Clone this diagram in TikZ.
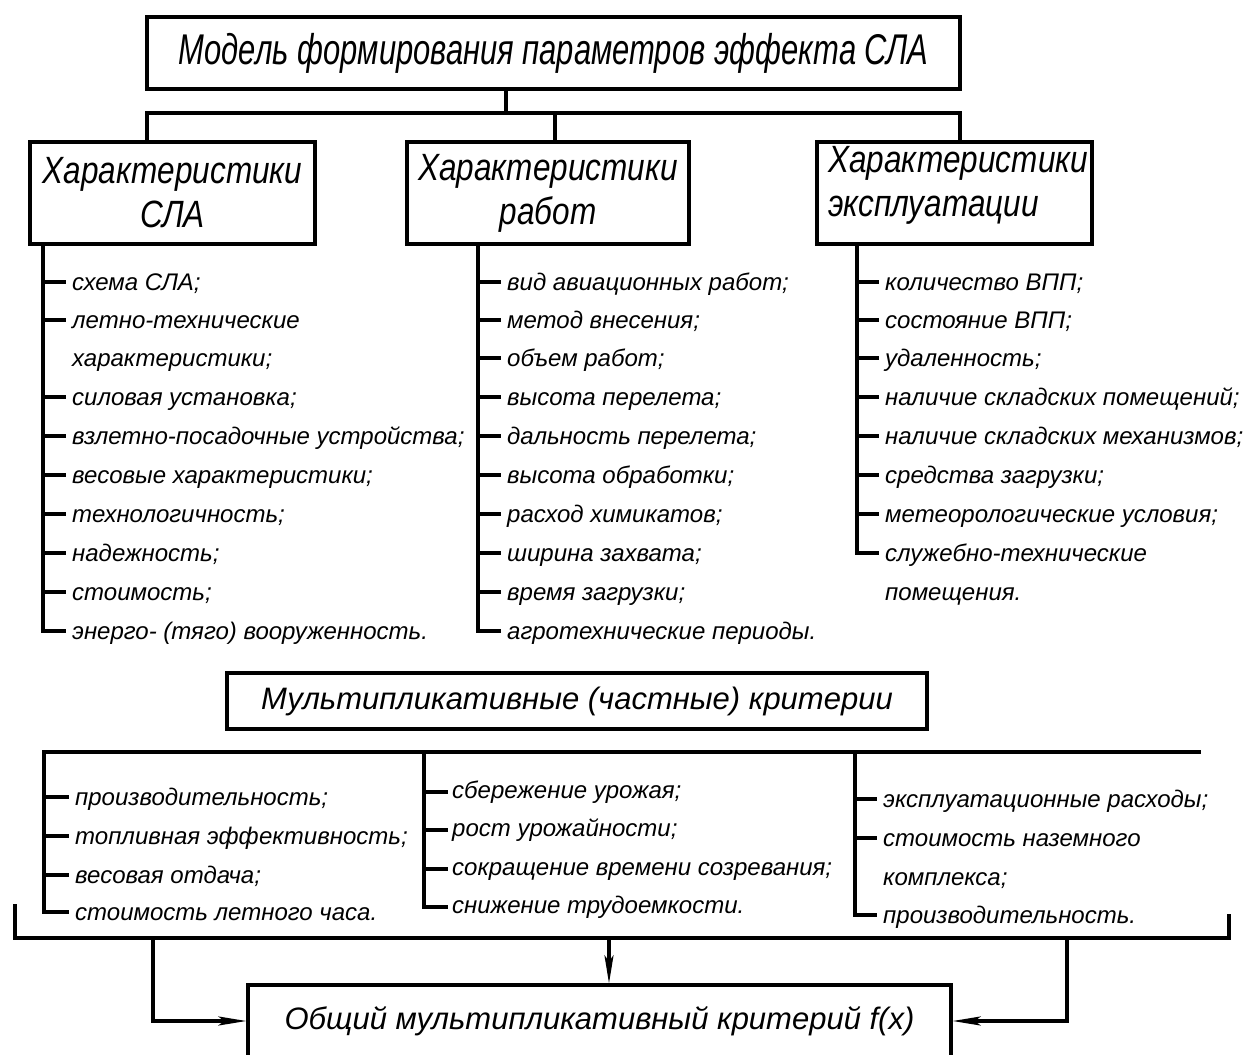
\documentclass[tikz,border=0pt]{standalone}
\usepackage{fontspec}
\setmainfont{Liberation Sans}
\newfontfamily\ttlfont{Liberation Sans}[FakeStretch=0.72]
\newfontfamily\hdrfont{Liberation Sans}[FakeStretch=0.83]
\usetikzlibrary{arrows.meta}
\begin{document}
\begin{tikzpicture}[x=1pt,y=-1pt,
  ln/.style={line width=3.2pt,line cap=rect},
  frame/.style={draw,line width=3.2pt,inner sep=0pt},
  ttl/.style={font=\ttlfont\itshape\fontsize{43}{46}\selectfont},
  hdr/.style={font=\hdrfont\itshape\fontsize{38}{44}\selectfont,align=center},
  crit/.style={font=\itshape\fontsize{31}{36}\selectfont},
  itm/.style={anchor=base west,inner sep=0pt,font=\itshape\fontsize{24}{28}\selectfont},
  arr/.style={line width=3.2pt,-{Stealth[length=28pt,width=9pt,inset=6pt]}}]
\useasboundingbox (0,0) rectangle (1254,1055);
\clip (0,0) rectangle (1254,1055);

% upper level
\node[frame,ttl,minimum width=813,minimum height=72] (top) at (553.5,53)
  {Модель формирования параметров эффекта СЛА};
\node[frame,hdr,minimum width=285,minimum height=102] (b1) at (172.5,193)
  {Характеристики\\СЛА};
\node[frame,hdr,minimum width=282,minimum height=102] (b2) at (548,193)
  {Характеристики\\работ};
\node[frame,minimum width=275,minimum height=102] (b3) at (954.5,193) {};
\node[hdr,align=left,anchor=base west,inner sep=0pt] (b3t) at (828,216)
  {Характеристики\\эксплуатации};

\coordinate (hub) at (506,113);
\coordinate (j1) at (147,113);
\coordinate (j2) at (555,113);
\coordinate (j3) at (960,113);
\draw[ln] (top.south -| hub) -- (hub);
\draw[ln] (b1.north -| j1) -- (j1) -- (j3) -- (b3.north -| j3);
\draw[ln] (j2) -- (b2.north -| j2);

% lists under the three headers
\draw[ln] (b1.south -| 43,0) -- (43,631);
\foreach \y/\t/\k [count=\i] in {
  282/{схема СЛА;}/1,
  320/{летно-технические}/1,
  358/{характеристики;}/0,
  397/{силовая установка;}/1,
  436/{взлетно-посадочные устройства;}/1,
  475/{весовые характеристики;}/1,
  514/{технологичность;}/1,
  553/{надежность;}/1,
  592/{стоимость;}/1,
  631/{энерго- (тяго) вооруженность.}/1} {
  \node[itm] (a\i) at (72,\y+8) {\t};
  \ifnum\k=1 \draw[ln] (43,\y) -- ([xshift=-8pt]a\i.west |- 43,\y); \fi
}

\draw[ln] (b2.south -| 478,0) -- (478,631);
\foreach \y/\t [count=\i] in {
  282/{вид авиационных работ;},
  320/{метод внесения;},
  358/{объем работ;},
  397/{высота перелета;},
  436/{дальность перелета;},
  475/{высота обработки;},
  514/{расход химикатов;},
  553/{ширина захвата;},
  592/{время загрузки;},
  631/{агротехнические периоды.}} {
  \node[itm] (w\i) at (507,\y+8) {\t};
  \draw[ln] (478,\y) -- ([xshift=-8pt]w\i.west |- 478,\y);
}

\draw[ln] (b3.south -| 857,0) -- (857,553);
\foreach \y/\t/\k [count=\i] in {
  282/{количество ВПП;}/1,
  320/{состояние ВПП;}/1,
  358/{удаленность;}/1,
  397/{наличие складских помещений;}/1,
  436/{наличие складских механизмов;}/1,
  475/{средства загрузки;}/1,
  514/{метеорологические условия;}/1,
  553/{служебно-технические}/1,
  592/{помещения.}/0} {
  \node[itm] (e\i) at (885,\y+8) {\t};
  \ifnum\k=1 \draw[ln] (857,\y) -- ([xshift=-8pt]e\i.west |- 857,\y); \fi
}

% lower level
\node[frame,crit,minimum width=700,minimum height=56] (mk) at (577,701)
  {Мультипликативные (частные) критерии};

\coordinate (r0) at (44,752);
\coordinate (r1) at (1199,752);
\draw[ln] (r0) -- (r1);

\draw[ln] (r0) -- (44,912);
\foreach \y/\t [count=\i] in {
  797/{производительность;},
  836/{топливная эффективность;},
  875/{весовая отдача;},
  912/{стоимость летного часа.}} {
  \node[itm] (p\i) at (75,\y+8) {\t};
  \draw[ln] (44,\y) -- ([xshift=-8pt]p\i.west |- 44,\y);
}

\draw[ln] (424,752) -- (424,907);
\foreach \y/\t [count=\i] in {
  792/{сбережение урожая;},
  830/{рост урожайности;},
  869/{сокращение времени созревания;},
  907/{снижение трудоемкости.}} {
  \node[itm] (s\i) at (452,\y+6) {\t};
  \draw[ln] (424,\y) -- ([xshift=-6pt]s\i.west |- 424,\y);
}

\draw[ln] (855,752) -- (855,915);
\foreach \y/\t/\k [count=\i] in {
  799/{эксплуатационные расходы;}/1,
  838/{стоимость наземного}/1,
  877/{комплекса;}/0,
  915/{производительность.}/1} {
  \node[itm] (c\i) at (883,\y+8) {\t};
  \ifnum\k=1 \draw[ln] (855,\y) -- ([xshift=-8pt]c\i.west |- 855,\y); \fi
}

% collecting bracket and the final criterion
\node[frame,crit,minimum width=703,minimum height=72] (gk) at (599.5,1021)
  {Общий мультипликативный критерий f(x)};
\coordinate (q0) at (15,906);
\coordinate (q1) at (15,938);
\coordinate (q2) at (1229,938);
\coordinate (q3) at (1229,916);
\draw[ln] (q0) -- (q1) -- (q2) -- (q3);
\coordinate (qa) at (153,938);
\coordinate (qb) at (609,938);
\coordinate (qc) at (1067,938);
\draw[arr] (qa) |- (gk.west);
\draw[arr] (qb) -- (gk.north -| qb);
\draw[arr] (qc) |- (gk.east);
\end{tikzpicture}
\end{document}
